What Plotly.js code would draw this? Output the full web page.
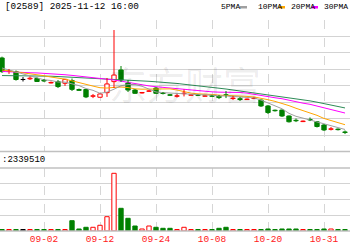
<!DOCTYPE html>
<html><head><meta charset="utf-8">
<script src="https://cdn.plot.ly/plotly-3.0.1.min.js"></script>
<style>html,body{margin:0;padding:0;background:#fff;}#chart{width:350px;height:250px;}</style>
</head><body><div id="chart"></div>
<script>
const dates = ['2025-08-25','2025-08-26','2025-08-27','2025-08-28','2025-08-29','2025-09-01','2025-09-02','2025-09-03','2025-09-04','2025-09-05','2025-09-08','2025-09-09','2025-09-10','2025-09-11','2025-09-12','2025-09-15','2025-09-16','2025-09-17','2025-09-18','2025-09-19','2025-09-22','2025-09-23','2025-09-24','2025-09-25','2025-09-26','2025-09-29','2025-09-30','2025-10-02','2025-10-03','2025-10-06','2025-10-08','2025-10-09','2025-10-10','2025-10-13','2025-10-14','2025-10-15','2025-10-16','2025-10-17','2025-10-20','2025-10-21','2025-10-22','2025-10-23','2025-10-24','2025-10-27','2025-10-28','2025-10-30','2025-10-31','2025-11-03','2025-11-04','2025-11-05'];
const tickDates = ['2025-09-02','2025-09-12','2025-09-24','2025-10-08','2025-10-20','2025-10-31'];
const tickLabels = ['09-02','09-12','09-24','10-08','10-20','10-31'];
const open  = [126.9,118.7,118.6,113.8,114.2,114.4,113.3,111.7,112.5,111.5,113.2,107.7,107.7,103.6,103.0,105.8,112.5,119.6,111.7,107.4,105.6,106.6,108.6,105.6,104.5,103.6,105.2,104.2,104.5,103.6,103.9,103.6,104.5,102.2,102.1,101.6,102.2,101.3,97.7,95.1,95.2,91.6,89.0,88.2,89.5,88.1,86.1,83.5,83.6,81.9];
const high  = [127.7,120.2,119.3,115.3,115.6,115.0,114.1,112.6,113.5,114.1,114.4,108.3,108.0,105.0,105.3,114.7,143.9,122.0,113.5,108.0,106.2,107.4,109.2,106.2,105.0,105.0,107.7,104.7,104.7,104.1,104.4,104.4,106.8,103.8,103.2,102.2,102.8,101.6,98.3,95.5,95.5,91.9,90.1,88.8,90.7,88.5,86.7,84.9,84.0,82.8];
const low   = [117.8,117.2,113.1,112.6,113.5,112.3,112.3,111.4,108.6,109.9,106.8,106.8,102.5,102.5,102.8,103.2,108.6,112.3,106.2,105.0,105.3,106.2,105.0,104.7,103.8,102.8,103.5,104.0,103.8,103.5,103.2,101.9,102.5,101.3,100.7,101.4,101.9,97.1,92.8,94.3,91.0,87.6,87.9,87.9,88.5,84.6,82.5,82.8,82.8,80.6];
const close = [118.6,119.0,113.8,113.8,114.6,112.6,112.9,112.0,109.5,113.9,107.8,107.2,103.2,103.9,105.0,111.1,116.5,113.5,107.4,105.4,105.9,106.9,105.4,105.3,104.2,103.9,105.5,104.5,104.2,103.9,103.6,102.8,104.2,102.5,101.6,101.9,102.5,97.7,93.7,94.8,91.6,88.1,88.7,88.5,89.2,85.2,83.1,83.8,83.3,81.6];
const volume = [95000,95000,95000,95000,95000,95000,95000,95000,95000,95000,654000,127000,235000,235000,362000,908000,3663000,1441000,806000,317000,127000,317000,235000,171000,171000,95000,235000,95000,95000,95000,95000,171000,235000,95000,95000,95000,95000,95000,127000,95000,127000,127000,127000,95000,95000,95000,127000,127000,95000,95000];
const ma5  = [120.8,119.6,118.1,117.2,115.9,114.8,113.6,113.2,112.3,112.2,111.3,110.1,108.3,107.2,105.4,106.1,107.9,110.0,110.7,110.8,109.7,107.8,106.2,105.8,105.5,105.2,104.9,104.7,104.4,104.4,104.3,103.8,103.8,103.4,103.0,102.6,102.6,101.3,99.5,98.1,96.0,93.2,91.4,90.3,89.2,88.0,86.9,85.9,84.9,83.4];
const ma10 = [119.6,119.0,118.5,118.1,117.6,116.8,116.1,115.3,114.7,114.0,113.0,111.8,110.8,109.8,108.8,108.6,109.0,109.2,108.9,108.1,107.9,107.9,108.1,108.3,108.1,107.4,106.3,105.5,105.1,105.0,104.7,104.3,104.2,103.9,103.7,103.5,103.2,102.5,101.5,100.5,99.3,97.9,96.3,94.9,93.7,92.0,90.1,88.7,87.6,86.3];
const ma20 = [118.7,118.4,118.2,118.0,117.9,117.8,117.6,117.3,117.0,116.7,116.3,115.9,115.5,115.1,114.7,114.2,113.5,112.8,112.0,111.1,110.5,109.9,109.4,109.0,108.5,108.0,107.7,107.3,107.1,106.6,106.3,106.1,106.1,106.1,105.9,105.5,104.7,103.9,103.3,102.7,102.1,101.1,100.2,99.4,98.7,97.7,96.6,95.6,94.5,93.4];
const ma30 = [116.2,116.2,116.2,116.2,116.2,116.1,115.9,115.8,115.6,115.4,115.3,115.1,114.9,114.7,114.4,114.2,113.9,113.7,113.4,113.2,113.0,112.7,112.4,112.2,111.9,111.4,110.9,110.5,110.0,109.5,109.1,108.5,108.0,107.4,106.8,106.2,105.6,105.0,104.5,104.0,103.5,103.0,102.4,101.6,100.8,100.0,99.1,98.3,97.4,96.5];

const RED = '#ff0000', GREEN = '#008000', BLACK = '#000000';
function dir(i) {
  if (close[i] > open[i]) return 1;
  if (close[i] < open[i]) return -1;
  if (i > 0 && close[i] > close[i-1]) return 1;
  if (i > 0 && close[i] < close[i-1]) return -1;
  return 0;
}
const dirs = dates.map((d, i) => dir(i));
const lineCol = dirs.map(d => d > 0 ? RED : (d < 0 ? GREEN : BLACK));
const fillCol = dirs.map(d => d > 0 ? '#ffffff' : (d < 0 ? GREEN : BLACK));

function wick(sign) {
  const xs = [], ys = [];
  dates.forEach((d, i) => {
    if (dirs[i] !== sign) return;
    const top = Math.max(open[i], close[i]), bot = Math.min(open[i], close[i]);
    xs.push(d, d, null, d, d, null);
    ys.push(high[i], top, null, bot, low[i], null);
  });
  return {type:'scatter', mode:'lines', x:xs, y:ys, xaxis:'x', yaxis:'y',
    line:{color: sign > 0 ? RED : (sign < 0 ? GREEN : BLACK), width:1}, hoverinfo:'skip', connectgaps:false};
}

const body = {type:'bar', x:dates, base:dates.map((d,i)=>Math.min(open[i],close[i])),
  y:dates.map((d,i)=>Math.max(Math.abs(close[i]-open[i]), 0.02)), width:0.62,
  marker:{color:fillCol, line:{color:lineCol, width:1}}, xaxis:'x', yaxis:'y', hoverinfo:'skip'};

const vol = {type:'bar', x:dates, y:volume, width:0.62,
  marker:{color:fillCol, line:{color:lineCol, width:1}}, xaxis:'x', yaxis:'y2', hoverinfo:'skip'};

function ma(arr, col) {
  return {type:'scatter', mode:'lines', x:dates, y:arr, line:{color:col, width:1}, xaxis:'x', yaxis:'y', hoverinfo:'skip'};
}

const traces = [
  ma(ma30, '#2e8b57'), ma(ma20, '#ff00ff'), ma(ma10, '#ffa500'), ma(ma5, '#a0a0a0'),
  body, wick(1), wick(-1), wick(0), vol
];

const mono = 'Liberation Mono, DejaVu Sans Mono, monospace';
const PH = 211; // plot height in px (t=20, b=19)
function py(px) { return (231 - px) / PH; }

const layout = {
  width:350, height:250, margin:{l:0, r:0, t:20, b:19},
  paper_bgcolor:'#ffffff', plot_bgcolor:'#ffffff', showlegend:false,
  barmode:'overlay',
  xaxis:{type:'category', categoryorder:'array', categoryarray:dates, range:[-0.286, 49.714],
    tickmode:'array', tickvals:tickDates, ticktext:tickLabels, showgrid:true, gridcolor:'#d6d6d6',
    griddash:'dash', gridwidth:1, ticks:'', showline:false, zeroline:false, anchor:'y2',
    tickfont:{family:mono, size:9.5, color:'#ff2020'}, fixedrange:true},
  yaxis:{domain:[0.3768, 1], range:[70, 150], tick0:70, dtick:10, showticklabels:false,
    showgrid:true, gridcolor:'#d3d3d3', zeroline:false, fixedrange:true},
  yaxis2:{domain:[0, 0.2986], range:[0, 4000000], tick0:0, dtick:1000000, showticklabels:false,
    showgrid:true, gridcolor:'#d3d3d3', zeroline:false, fixedrange:true},
  shapes:[
    {type:'line', xref:'paper', yref:'paper', x0:0, x1:1, y0:py(151.5), y1:py(151.5), line:{color:'#c0c0c0', width:1.5}},
    {type:'line', xref:'paper', yref:'paper', x0:0, x1:1, y0:py(168), y1:py(168), line:{color:'#c0c0c0', width:1.5}},
    {type:'line', xref:'paper', yref:'paper', x0:0, x1:1, y0:0, y1:0, line:{color:'#c0c0c0', width:1.5}},
    {type:'rect', xref:'paper', yref:'paper', x0:240/350, x1:247/350, y0:py(8.5), y1:py(6), fillcolor:'#a0a0a0', line:{width:0}},
    {type:'rect', xref:'paper', yref:'paper', x0:279/350, x1:285/350, y0:py(8.5), y1:py(6), fillcolor:'#ffa500', line:{width:0}},
    {type:'rect', xref:'paper', yref:'paper', x0:312/350, x1:318/350, y0:py(8.5), y1:py(6), fillcolor:'#ff00ff', line:{width:0}}
  ],
  annotations:[
    {text:'东方财富', xref:'paper', yref:'paper', x:185/350, y:py(82), yanchor:'middle', showarrow:false,
      font:{family:'Noto Sans CJK SC', size:38, color:'rgba(0,0,0,0.08)'}},
    {text:'[02589] 2025-11-12 16:00', xref:'paper', yref:'paper', x:3/350, y:py(7),
      xanchor:'left', yanchor:'middle', showarrow:false, font:{family:mono, size:9.3, color:'#000000'}},
    {text:'5PMA', xref:'paper', yref:'paper', x:219/350, y:py(7), xanchor:'left', yanchor:'middle', showarrow:false, font:{family:mono, size:8, color:'#000000'}},
    {text:'10PMA', xref:'paper', yref:'paper', x:256/350, y:py(7), xanchor:'left', yanchor:'middle', showarrow:false, font:{family:mono, size:8, color:'#000000'}},
    {text:'20PMA', xref:'paper', yref:'paper', x:289/350, y:py(7), xanchor:'left', yanchor:'middle', showarrow:false, font:{family:mono, size:8, color:'#000000'}},
    {text:'30PMA', xref:'paper', yref:'paper', x:322/350, y:py(7), xanchor:'left', yanchor:'middle', showarrow:false, font:{family:mono, size:8, color:'#000000'}},
    {text:':2339510', xref:'paper', yref:'paper', x:0, y:py(160), xanchor:'left', yanchor:'middle', showarrow:false, font:{family:mono, size:9, color:'#000000'}}
  ]
};

Plotly.newPlot('chart', traces, layout, {staticPlot:true, displayModeBar:false});
</script>
</body></html>
